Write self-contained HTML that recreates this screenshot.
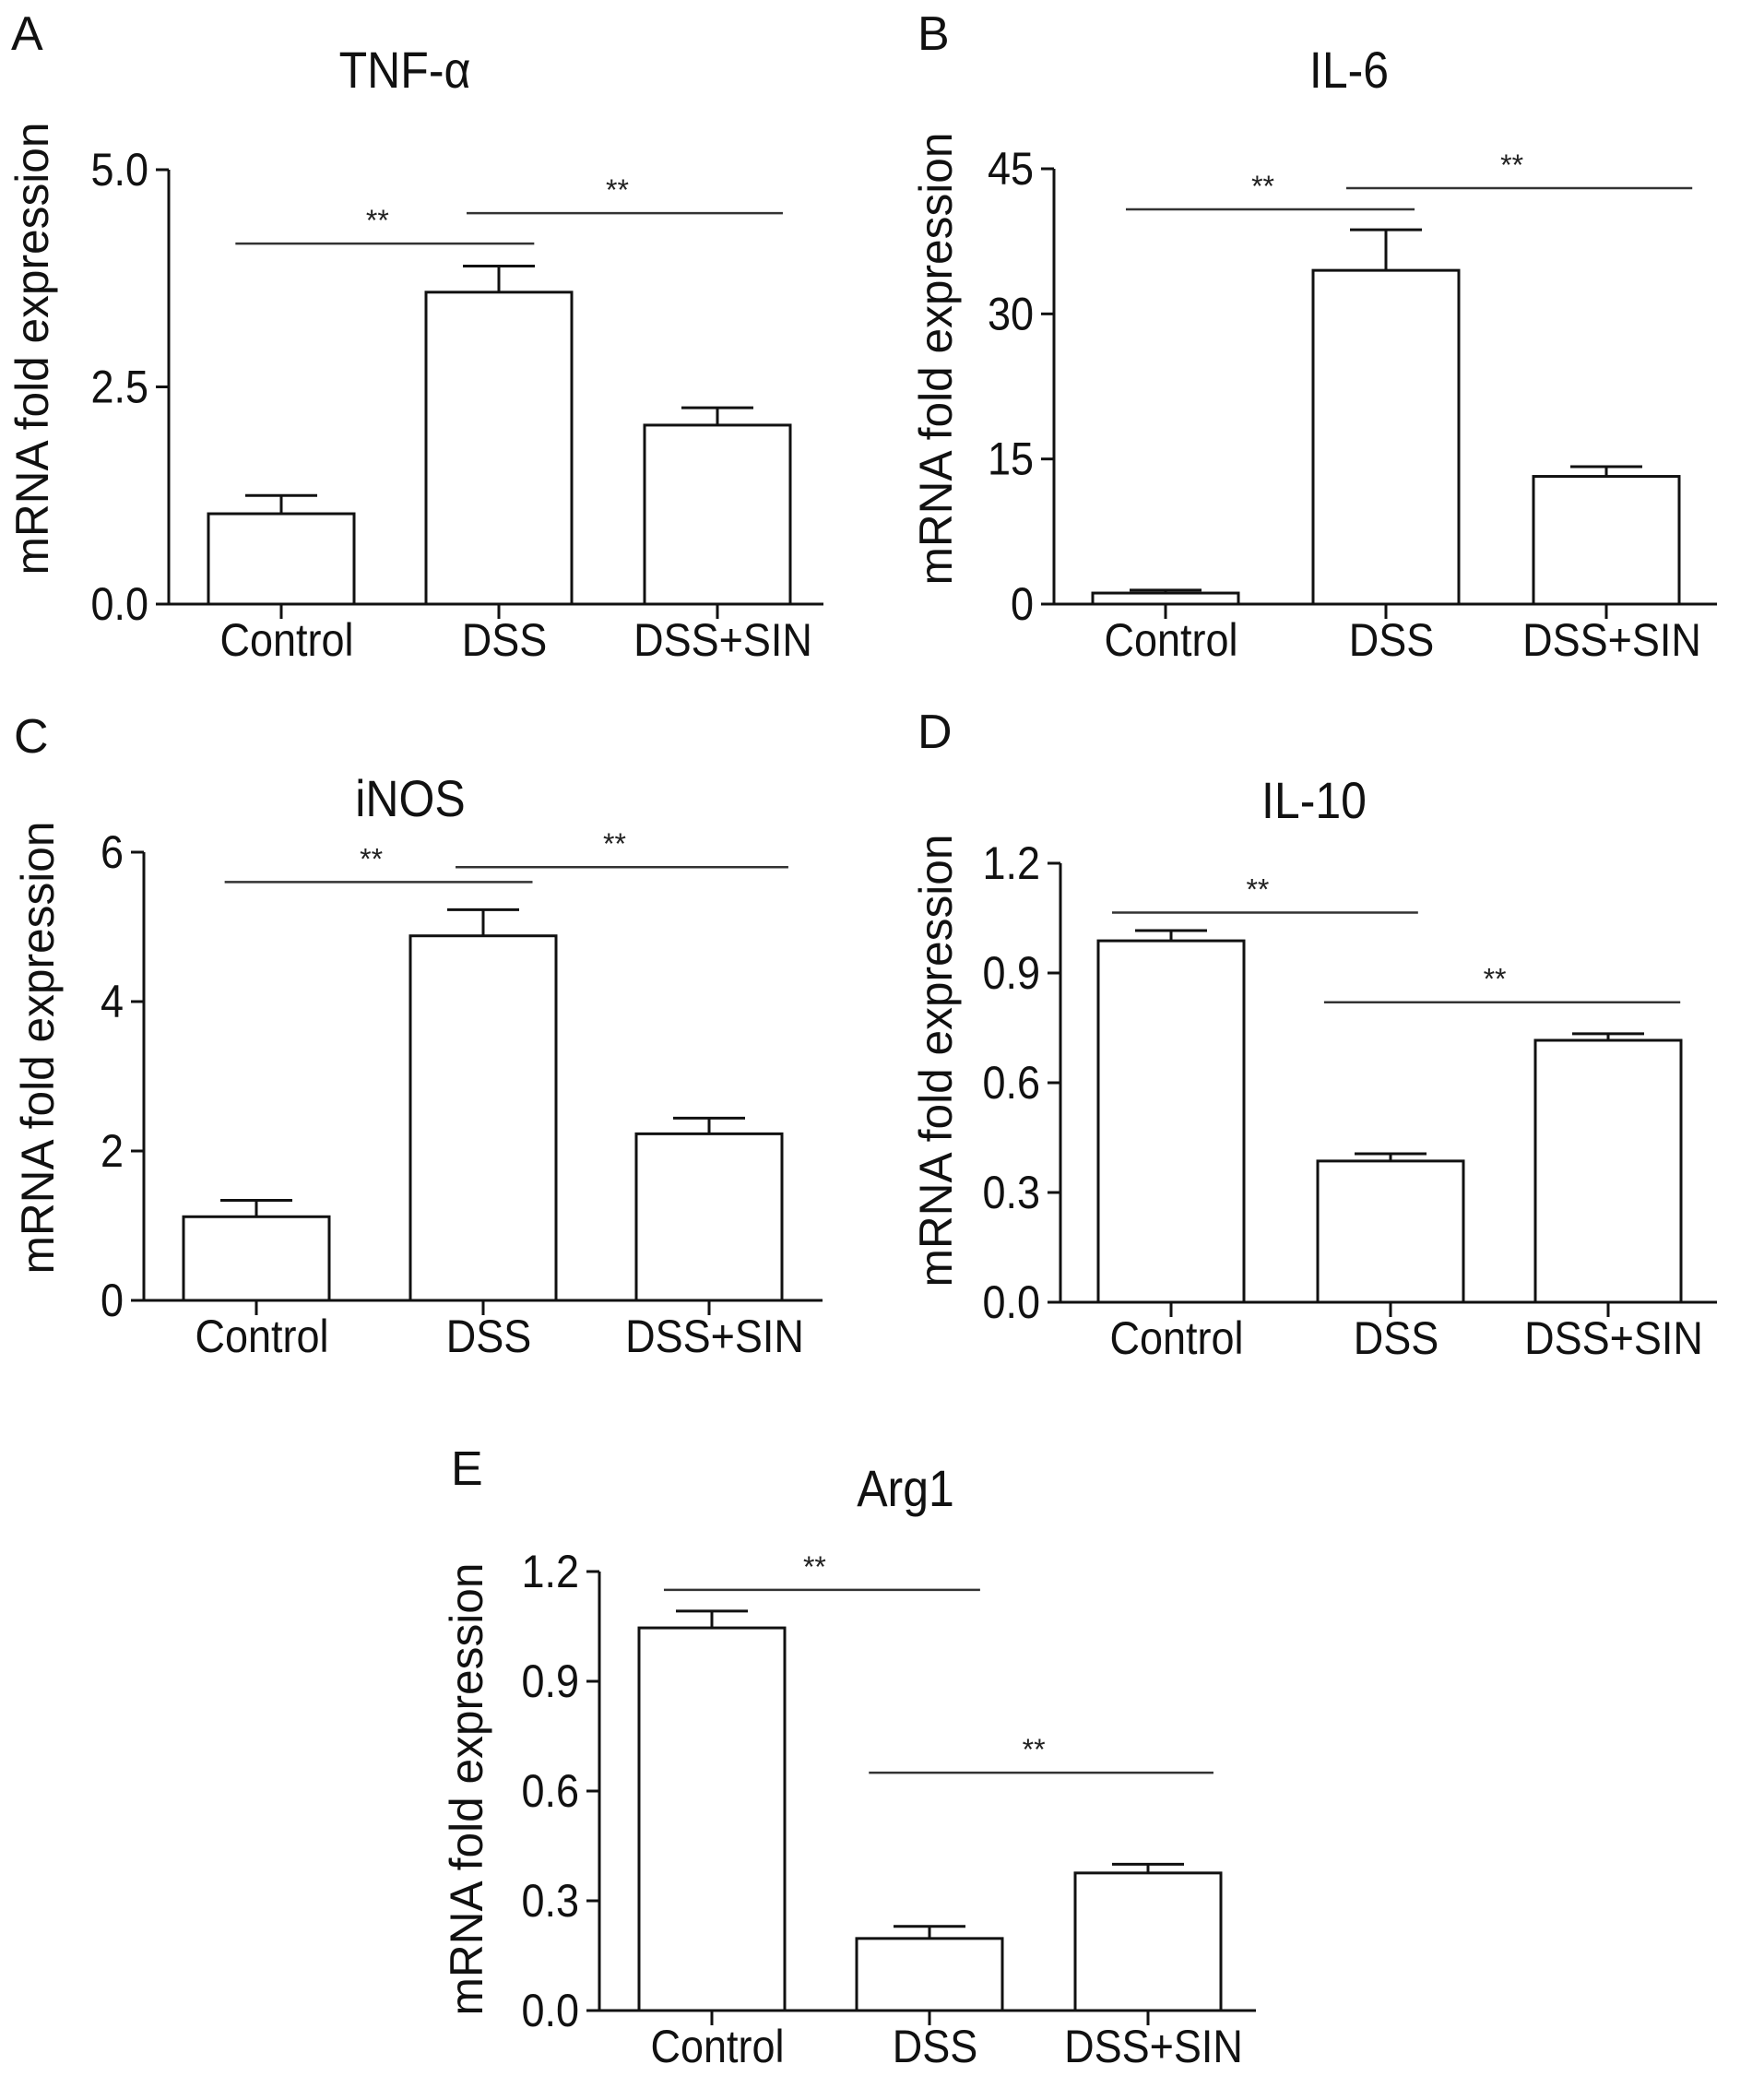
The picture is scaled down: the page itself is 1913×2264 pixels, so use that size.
<!DOCTYPE html>
<html><head><meta charset="utf-8">
<style>
html,body{margin:0;padding:0;background:#fff;}
svg{display:block;font-family:"Liberation Sans",Arial,sans-serif;}
</style></head>
<body>
<svg id="fig" width="1913" height="2264" viewBox="0 0 1913 2264" xmlns="http://www.w3.org/2000/svg"></svg>
<script>
const categories = ["Control","DSS","DSS+SIN"];
const tnfValues = [1.04, 3.59, 2.06];
const tnfErrors = [0.21, 0.30, 0.20];
const il6Values = [1.14, 34.5, 13.2];
const il6Errors = [0.3, 4.2, 1.0];
const inosValues = [1.12, 4.88, 2.23];
const inosErrors = [0.22, 0.35, 0.21];
const il10Values = [0.988, 0.386, 0.716];
const il10Errors = [0.028, 0.02, 0.018];
const arg1Values = [1.046, 0.197, 0.376];
const arg1Errors = [0.046, 0.033, 0.024];
const tnfTicks = ["0.0","2.5","5.0"];
const il6Ticks = ["0","15","30","45"];
const inosTicks = ["0","2","4","6"];
const il10Ticks = ["0.0","0.3","0.6","0.9","1.2"];
const arg1Ticks = ["0.0","0.3","0.6","0.9","1.2"];
// [from category position, to category position, height value]
const tnfSig = [[-0.21,1.16,4.15],[0.85,2.30,4.5]];
const il6Sig = [[-0.18,1.13,40.8],[0.82,2.39,43.0]];
const inosSig = [[-0.14,1.22,5.6],[0.88,2.35,5.8]];
const il10Sig = [[-0.27,1.13,1.065],[0.70,2.33,0.82]];
const arg1Sig = [[-0.22,1.23,1.15],[0.72,2.30,0.65]];

const NS = "http://www.w3.org/2000/svg";
const svg = document.getElementById("fig");
function mk(tag, attrs, parent){
  const e = document.createElementNS(NS, tag);
  for (const k in attrs) e.setAttribute(k, attrs[k]);
  (parent||svg).appendChild(e);
  return e;
}
function stext(s, x, y, size, anchor, parent){
  const e = mk("text", {x:0, y:0, "font-size":size, fill:"#111", "text-anchor":anchor, transform:`translate(${x},${y}) scale(1,1.12)`}, parent);
  e.textContent = s;
  return e;
}

const panels = [
 {id:"a", letter:"A", lx:12, ly:54, title:"TNF-\u03b1", tx:439, ty:95, ax:183, x1:893, top:184, zero:655, max:5, ticks:tnfTicks, vals:tnfValues, errs:tnfErrors, sig:tnfSig, barL:[226,462,699], ylx:36, yly:378},
 {id:"b", letter:"B", lx:995, ly:54, title:"IL-6", tx:1463, ty:95, ax:1143, x1:1862, top:183, zero:655, max:45, ticks:il6Ticks, vals:il6Values, errs:il6Errors, sig:il6Sig, barL:[1185,1424,1663], ylx:1016, yly:389},
 {id:"c", letter:"C", lx:15, ly:816, title:"iNOS", tx:445, ty:885, ax:156, x1:892, top:924, zero:1410, max:6, ticks:inosTicks, vals:inosValues, errs:inosErrors, sig:inosSig, barL:[199,445,690], ylx:42, yly:1136},
 {id:"d", letter:"D", lx:995, ly:811, title:"IL-10", tx:1425, ty:887, ax:1150, x1:1862, top:936, zero:1412, max:1.2, ticks:il10Ticks, vals:il10Values, errs:il10Errors, sig:il10Sig, barL:[1191,1429,1665], ylx:1016, yly:1150},
 {id:"e", letter:"E", lx:489, ly:1610, title:"Arg1", tx:982, ty:1633, ax:650, x1:1362, top:1704, zero:2180, max:1.2, ticks:arg1Ticks, vals:arg1Values, errs:arg1Errors, sig:arg1Sig, barL:[693,929,1166], ylx:507, yly:1940}
];
const BW = 158;

panels.forEach(p => {
  const g = mk("g", {});
  
  
  const y = v => p.zero - (v / p.max) * (p.zero - p.top);
  const cx = i => p.barL[i] + BW/2;
  const spacing = (cx(2) - cx(0)) / 2;
  const xc = pos => cx(0) + pos * spacing;

  const L = mk("text", {x:p.lx, y:p.ly, "font-size":52, fill:"#111"}, g);
  L.textContent = p.letter;
  
  
  const T = stext(p.title, p.tx, p.ty, 50, "middle", g);
  
  
  const YL = mk("text", {x:0, y:0, "font-size":50, fill:"#111", "text-anchor":"middle", textLength:491, lengthAdjust:"spacingAndGlyphs", transform:`translate(${p.ylx+16},${p.yly}) rotate(-90)`}, g);
  YL.textContent = "mRNA fold expression";
  
  

  p.vals.forEach((v,i) => {
    const r = mk("rect", {x:p.barL[i], y:y(v), width:BW, height:p.zero - y(v), fill:"#fff", stroke:"#111", "stroke-width":3}, g);
    
    
    const top = y(v + p.errs[i]);
    const e = mk("path", {d:`M${cx(i)},${y(v)} V${top} M${cx(i)-39},${top} H${cx(i)+39}`, stroke:"#111", "stroke-width":3, fill:"none"}, g);
    
    
  });

  const ya = mk("line", {x1:p.ax, y1:p.top, x2:p.ax, y2:p.zero, stroke:"#111", "stroke-width":3}, g);
  
  
  const xa = mk("line", {x1:p.ax-14, y1:p.zero, x2:p.x1, y2:p.zero, stroke:"#111", "stroke-width":3}, g);
  
  

  p.ticks.forEach(t => {
    const ty = y(parseFloat(t));
    mk("line", {x1:p.ax-14, y1:ty, x2:p.ax, y2:ty, stroke:"#111", "stroke-width":3}, g);
    const tl = stext(t, p.ax-22, ty+17, 45, "end", g);
    
    
  });
  categories.forEach((c,i) => {
    mk("line", {x1:cx(i), y1:p.zero, x2:cx(i), y2:p.zero+16, stroke:"#111", "stroke-width":3}, g);
    const cl = stext(c, cx(i)+6, p.zero+56, 45, "middle", g);
    
    
  });

  p.sig.forEach((s,k) => {
    const sy = y(s[2]);
    const xa0 = xc(s[0]), xa1 = xc(s[1]);
    const ln = mk("line", {x1:xa0, y1:sy, x2:xa1, y2:sy, stroke:"#333", "stroke-width":2.5}, g);
    
    
    const st = mk("text", {x:(xa0+xa1)/2 - 8, y:sy-14, "font-size":32, fill:"#222", "text-anchor":"middle"}, g);
    st.textContent = "**";
    
    
  });
});
</script>
</body></html>
